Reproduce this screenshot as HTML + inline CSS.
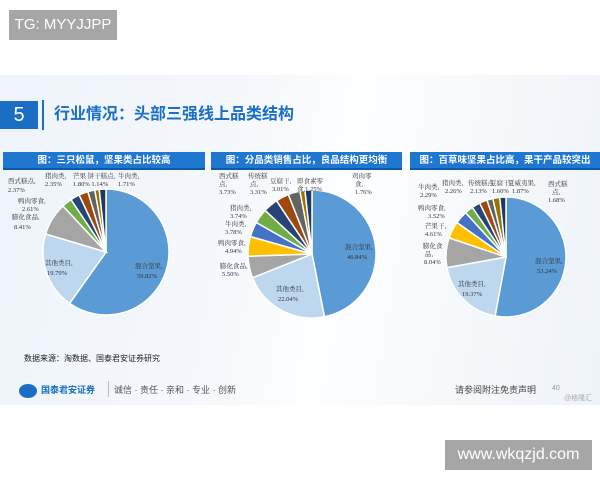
<!DOCTYPE html>
<html><head><meta charset="utf-8"><style>
body{margin:0;width:600px;height:480px;background:#fff;position:relative;overflow:hidden;font-family:"Liberation Sans","Noto Sans CJK SC",sans-serif}
.abs{position:absolute}
.slide{left:0;top:75px;width:600px;height:330px;background:linear-gradient(100deg,#eef4fa 0%,#f5f8fc 40%,#fdfeff 55%,#eef3f8 100%)}
.wm{background:#a6a6a6;color:#fff;font-size:15px;line-height:30px;text-align:center}
.tb{height:18px;background:#1f77d0;color:#fff;font-size:9.5px;font-weight:bold;line-height:18px;box-sizing:border-box;border-bottom:2px solid #0d5aa8;white-space:nowrap;overflow:hidden;text-align:center}
svg text{font-family:"Liberation Serif","Noto Serif CJK SC",serif;font-size:6.5px;fill:#333}
</style></head><body>
<div class="abs wm" style="left:9px;top:10px;width:108px;height:30px">TG: MYYJJPP</div>
<div class="abs slide"></div>
<div class="abs" style="left:0;top:101px;width:38px;height:28px;background:#1a6fc4;color:#fff;font-size:20px;line-height:28px;text-align:center">5</div>
<div class="abs" style="left:42px;top:100px;width:2px;height:30px;background:#1a6fc4"></div>
<div class="abs" style="left:54px;top:103px;color:#1a6fc4;font-size:16px;font-weight:bold;line-height:24px">行业情况：头部三强线上品类结构</div>
<div class="abs tb" style="left:3px;top:152px;width:202px">图：三只松鼠，坚果类占比较高</div>
<div class="abs tb" style="left:211px;top:152px;width:191px">图：分品类销售占比，良品结构更均衡</div>
<div class="abs tb" style="left:410px;top:152px;width:190px">图：百草味坚果占比高，果干产品较突出</div>
<svg class="abs" id="s" style="left:0;top:0" width="600" height="480"></svg>
<div class="abs" style="left:24px;top:353px;font-size:8px;color:#222">数据来源：淘数据、国泰君安证券研究</div>
<div class="abs" style="left:19px;top:384px;width:18px;height:14px;border-radius:50%;background:#1a6fc4"></div>
<div class="abs" style="left:41px;top:383px;font-size:9px;font-weight:bold;color:#1a6fc4">国泰君安证券</div>
<div class="abs" style="left:108px;top:381px;width:1px;height:16px;background:#bbb"></div>
<div class="abs" style="left:114px;top:383px;font-size:9px;color:#555">诚信 · 责任 · 亲和 · 专业 · 创新</div>
<div class="abs" style="left:455px;top:383px;font-size:9px;color:#444">请参阅附注免责声明</div>
<div class="abs" style="left:552px;top:385px;font-size:7px;color:#999">40</div>
<div class="abs" style="left:564px;top:393px;font-size:7px;color:#aaa">@格隆汇</div>
<div class="abs wm" style="left:445px;top:440px;width:147px;height:30px;font-size:16px">www.wkqzjd.com</div>
<script>
var C=['#5b9bd5','#bdd7ee','#a5a5a5','#70ad47','#264478','#9e480e','#636363','#997300','#1f3864'];
var C2=['#5b9bd5','#bdd7ee','#a5a5a5','#ffc000','#4472c4','#70ad47','#264478','#9e480e','#636363','#997300','#1f3864'];
var pies=[
{cx:106,cy:252,r:63,c:C,v:[59.82,19.79,8.41,2.61,2.37,2.35,1.80,1.14,1.71]},
{cx:312,cy:254,r:64,c:C2,v:[46.84,22.04,5.50,4.94,3.78,3.74,3.73,3.31,3.01,1.25,1.76]},
{cx:506,cy:257,r:60,c:C2,v:[53.24,19.37,8.04,4.61,3.52,2.29,2.26,2.13,1.60,1.87,1.68]}];
var s='';
pies.forEach(function(p){var t=p.v.reduce(function(a,b){return a+b},0),a=0;
p.v.forEach(function(v,i){var a1=a+v/t*2*Math.PI;
var x0=p.cx+p.r*Math.sin(a),y0=p.cy-p.r*Math.cos(a),x1=p.cx+p.r*Math.sin(a1),y1=p.cy-p.r*Math.cos(a1);
s+='<path d="M'+p.cx+' '+p.cy+'L'+x0+' '+y0+'A'+p.r+' '+p.r+' 0 '+(a1-a>Math.PI?1:0)+' 1 '+x1+' '+y1+'Z" fill="'+p.c[i]+'" stroke="#fff" stroke-width="1.5"/>';a=a1;});});
var L=[
[135,268,'混合坚果,'],[137,278,'59.82%'],[45,265,'其他类目,'],[47,275,'19.79%'],[12,219,'膨化食品,'],[14,229,'8.41%'],
[18,203,'鸭肉零食,'],[22,211,'2.61%'],[8,183,'西式糕点,'],[8,192,'2.37%'],[45,178,'猪肉类,'],[45,186,'2.35%'],
[73,178,'芒果 饼干糕点,'],[73,186,'1.80% 1.14%'],[118,178,'牛肉类,'],[118,186,'1.71%'],
[345,249,'混合坚果,'],[347,259,'46.84%'],[276,291,'其他类目,'],[278,301,'22.04%'],[220,268,'膨化食品,'],[222,276,'5.50%'],
[218,245,'鸭肉零食,'],[225,253,'4.94%'],[225,226,'牛肉类,'],[225,234,'3.78%'],[230,210,'猪肉类,'],[230,218,'3.74%'],
[219,178,'西式糕'],[219,186,'点,'],[219,194,'3.73%'],[248,178,'传统糕'],[250,186,'点,'],[250,194,'3.31%'],
[270,183,'豆腐干,'],[272,191,'3.01%'],[297,183,'即食素零'],[297,191,'食,1.25%'],[352,178,'鸡肉零'],[355,186,'食,'],[355,194,'1.76%'],
[535,263,'混合坚果,'],[537,273,'53.24%'],[458,286,'其他类目,'],[462,296,'19.37%'],[423,248,'膨化食'],[425,256,'品,'],[424,264,'8.04%'],
[425,228,'芒果干,'],[425,236,'4.61%'],[418,210,'鸭肉零食,'],[428,218,'3.52%'],[418,189,'牛肉类,'],[420,197,'2.29%'],
[442,185,'猪肉类,'],[445,193,'2.26%'],[468,185,'传统糕点'],[470,193,'2.13%'],[490,185,'豆腐干,'],[492,193,'1.60%'],
[508,185,'夏威夷果,'],[512,193,'1.87%'],[548,186,'西式糕'],[552,194,'点,'],[548,202,'1.68%']];
L.forEach(function(l){s+='<text x="'+l[0]+'" y="'+l[1]+'">'+l[2]+'</text>'});
document.getElementById('s').innerHTML=s;
</script>
</body></html>
